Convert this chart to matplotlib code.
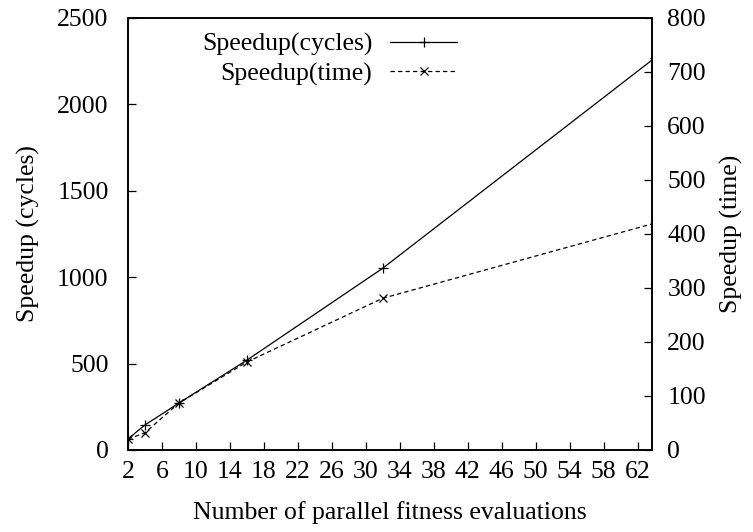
import matplotlib
matplotlib.use("Agg")
import matplotlib.pyplot as plt

plt.rcParams['font.family'] = ['Liberation Serif', 'DejaVu Serif']
plt.rcParams['font.size'] = 18.5

# Parallel fitness evaluations and measured speedups
n_parallel = [2, 4, 8, 16, 32, 64]
speedup_cycles = [64, 145, 272, 520, 1052, 2268]
speedup_time = [20, 32, 87, 163, 281, 420]

x_ticks = list(range(2, 63, 4))
left_ticks = [0, 500, 1000, 1500, 2000, 2500]
right_ticks = [0, 100, 200, 300, 400, 500, 600, 700, 800]

fig = plt.figure(figsize=(7.53, 5.32), dpi=100)
ax = fig.add_axes([128/753, 1 - 450/532, (652-128)/753, (450-18)/532])
ax2 = ax.twinx()

l1, = ax.plot(n_parallel, speedup_cycles, color='black', lw=0.9,
              marker='+', markersize=7, markeredgewidth=0.9,
              label='Speedup(cycles)')
l2, = ax2.plot(n_parallel, speedup_time, color='black', lw=0.9,
               linestyle=(0, (3.5, 2.5)), marker='x', markersize=6,
               markeredgewidth=0.9, label='Speedup(time)')

ax.set_xlim(2, 63.7)
ax.set_ylim(0, 2500)
ax2.set_ylim(0, 800)
ax.set_xticks(x_ticks)
ax.set_yticks(left_ticks)
ax2.set_yticks(right_ticks)

for a in (ax, ax2):
    a.tick_params(direction='in', length=6, width=0.9)
    for s in a.spines.values():
        s.set_linewidth(1.2)
ax.tick_params(axis='x', pad=8)
ax.tick_params(axis='y', pad=14)
ax2.tick_params(axis='y', pad=11)

ax.set_xlabel('Number of parallel fitness evaluations', labelpad=13)
ax.set_ylabel('Speedup (cycles)', labelpad=12)
ax2.set_ylabel('Speedup (time)', labelpad=10)

leg = ax.legend([l1, l2], ['Speedup(cycles)', 'Speedup(time)'],
                loc='upper right', bbox_to_anchor=(0.643, 0.984),
                frameon=False, markerfirst=False, handlelength=2.6,
                handletextpad=0.7, labelspacing=0.25, borderaxespad=0.0,
                borderpad=0.3)
for t in leg.get_texts():
    t.set_ha('right')
leg._legend_box.align = 'right'

fig.savefig('out.png', dpi=100)
